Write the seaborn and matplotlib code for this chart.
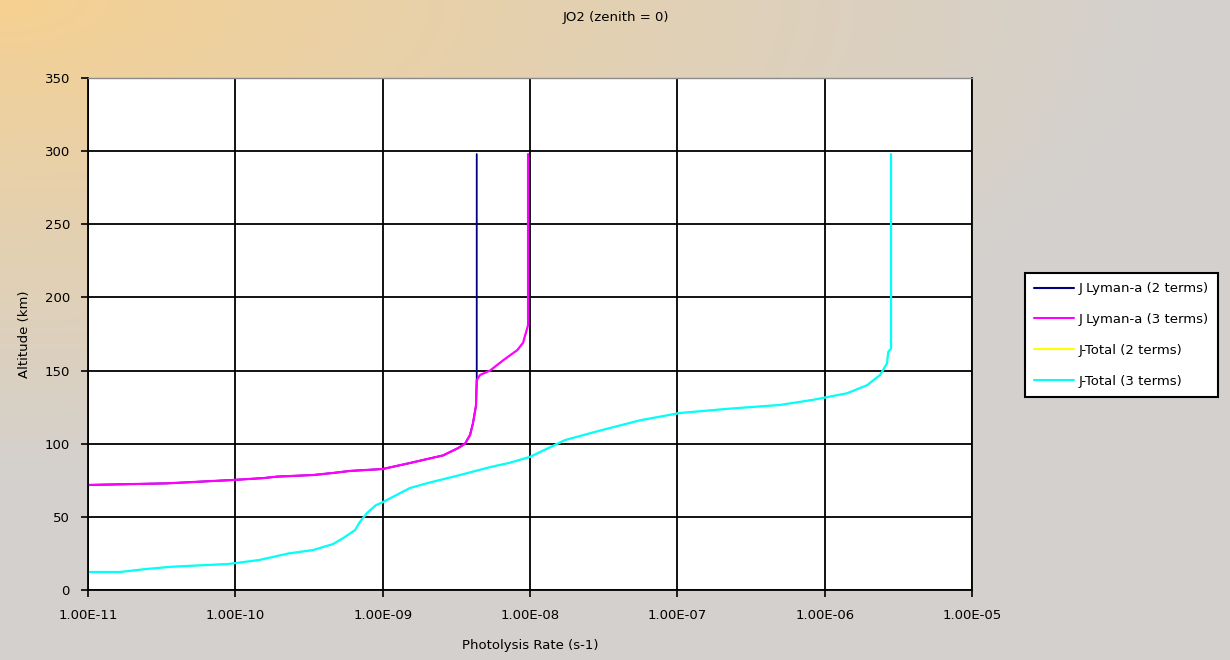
import numpy as np
import pandas as pd
import matplotlib
matplotlib.use("Agg")
import matplotlib.pyplot as plt
from matplotlib.ticker import FixedLocator, FuncFormatter
from matplotlib.lines import Line2D
import seaborn as sns

# Photolysis rate profiles of O2 (s-1) versus altitude (km)
lyman2_rate = [1.0e-11, 3.43e-11, 9.6e-11, 1.55e-10, 1.92e-10, 3.37e-10, 4.6e-10,
               6.0e-10, 1.0e-9, 1.53e-9, 2.0e-9, 2.57e-9, 3.25e-9, 3.62e-9,
               3.92e-9, 4.1e-9, 4.3e-9, 4.35e-9, 4.35e-9, 4.35e-9, 4.35e-9, 4.35e-9]
lyman2_alt = [71.8, 72.9, 75.2, 76.5, 77.5, 78.6, 80.0,
              81.4, 82.7, 86.8, 89.5, 92.0, 97.0, 100.0,
              106.0, 114.0, 126.0, 143.5, 150.0, 200.0, 250.0, 298.0]

lyman3_rate = [1.0e-11, 3.43e-11, 9.6e-11, 1.55e-10, 1.92e-10, 3.37e-10, 4.6e-10,
               6.0e-10, 1.0e-9, 1.53e-9, 2.0e-9, 2.57e-9, 3.25e-9, 3.62e-9,
               3.92e-9, 4.1e-9, 4.3e-9, 4.35e-9, 4.58e-9, 5.36e-9, 6.57e-9,
               8.2e-9, 8.97e-9, 9.7e-9, 9.7e-9]
lyman3_alt = [71.8, 72.9, 75.2, 76.5, 77.5, 78.6, 80.0,
              81.4, 82.7, 86.8, 89.5, 92.0, 97.0, 100.0,
              106.0, 114.0, 126.0, 143.5, 147.0, 150.0, 157.0,
              164.0, 169.0, 181.0, 298.0]

total_rate = [1.0e-11, 1.65e-11, 2.51e-11, 3.7e-11, 9.0e-11, 1.45e-10, 2.3e-10,
              3.37e-10, 4.6e-10, 5.4e-10, 6.5e-10, 7.0e-10, 7.83e-10, 9.0e-10,
              1.0e-9, 1.17e-9, 1.53e-9, 2.0e-9, 3.35e-9, 5.36e-9, 7.3e-9,
              1.0e-8, 1.73e-8, 2.99e-8, 5.58e-8, 1.04e-7, 2.28e-7, 4.98e-7,
              8.34e-7, 1.42e-6, 1.94e-6, 2.38e-6, 2.65e-6, 2.7e-6, 2.82e-6,
              2.82e-6]
total_alt = [12.3, 12.3, 14.4, 15.9, 17.8, 20.5, 25.0,
             27.3, 31.4, 35.5, 41.0, 46.5, 52.6, 58.0,
             60.0, 63.6, 69.7, 73.0, 78.6, 84.0, 87.0,
             91.0, 102.5, 109.0, 116.0, 121.0, 124.0, 126.5,
             130.0, 134.5, 140.0, 147.0, 155.0, 162.7, 165.0,
             298.0]

series_names = ["J Lyman-a (2 terms)", "J Lyman-a (3 terms)",
                "J-Total (2 terms)", "J-Total (3 terms)"]
series_colors = ["#000080", "#FF00FF", "#FFFF00", "#00FFFF"]
series_widths = [1.3, 1.6, 1.1, 1.6]

x_ticks = [1e-11, 1e-10, 1e-9, 1e-8, 1e-7, 1e-6, 1e-5]
y_ticks = [0, 50, 100, 150, 200, 250, 300, 350]

frames = []
for name, rate, alt in [(series_names[0], lyman2_rate, lyman2_alt),
                        (series_names[1], lyman3_rate, lyman3_alt),
                        (series_names[2], total_rate, total_alt),
                        (series_names[3], total_rate, total_alt)]:
    frames.append(pd.DataFrame({"rate": rate, "alt": alt, "series": name}))
df = pd.concat(frames, ignore_index=True)

sns.set_style("white")
plt.rcParams["font.family"] = ["DejaVu Sans"]
FS = 9.5

W, H = 1230, 660
fig = plt.figure(figsize=(W / 100, H / 100), dpi=100)

# Soft warm-to-grey background wash
bg = fig.add_axes([0, 0, 1, 1], zorder=-5)
yy, xx = np.mgrid[0:H, 0:W]
t = np.sqrt((xx / 1150.0) ** 2 + (yy / 470.0) ** 2)
t = np.clip(t, 0, 1) ** 0.9
warm = np.array([246, 208, 144]) / 255.0
grey = np.array([212, 208, 205]) / 255.0
img = warm[None, None, :] * (1 - t[..., None]) + grey[None, None, :] * t[..., None]
bg.imshow(img, aspect="auto", extent=[0, 1, 0, 1], origin="upper")
bg.set_axis_off()

ax = fig.add_axes([88 / W, 1 - 590 / H, (972 - 88) / W, (590 - 78) / H])
ax.set_facecolor("white")

for name, color, lw in zip(series_names, series_colors, series_widths):
    sub = df[df["series"] == name]
    sns.lineplot(data=sub, x="rate", y="alt", sort=False, estimator=None,
                 color=color, linewidth=lw, ax=ax, legend=False)

ax.set_xscale("log")
ax.set_xlim(1e-11, 1e-5)
ax.set_ylim(0, 350)
ax.xaxis.set_major_locator(FixedLocator(x_ticks))
ax.xaxis.set_minor_locator(FixedLocator([]))
ax.xaxis.set_major_formatter(FuncFormatter(lambda v, p: f"{v:.2E}"))
ax.yaxis.set_major_locator(FixedLocator(y_ticks))

ax.grid(True, color="black", linewidth=1.3)
ax.set_axisbelow(True)
for side in ["left", "bottom", "right"]:
    ax.spines[side].set_color("black")
    ax.spines[side].set_linewidth(1.3)
ax.spines["top"].set_color("#8a8a8a")
ax.spines["top"].set_linewidth(1.0)

ax.tick_params(axis="both", direction="out", length=5, width=1.2,
               color="black", labelsize=FS, labelcolor="black")
ax.tick_params(axis="x", pad=9, bottom=True)
ax.tick_params(axis="y", pad=8, left=True)

ax.set_xlabel("Photolysis Rate (s-1)", fontsize=FS, labelpad=12, color="black")
ax.set_ylabel("Altitude (km)", fontsize=FS, labelpad=10, color="black")

fig.text(616 / W, 1 - 18 / H, "JO2 (zenith = 0)", ha="center", va="center",
         fontsize=FS, color="black")

handles = [Line2D([0], [0], color=c, linewidth=1.5) for c in series_colors]
leg = fig.legend(handles, series_names, loc="upper left",
                 bbox_to_anchor=(1025 / W, 1 - 273 / H),
                 frameon=True, fancybox=False, framealpha=1.0, fontsize=FS,
                 handlelength=3.0, handletextpad=0.35, labelspacing=1.35,
                 borderpad=0.7, borderaxespad=0)
leg.get_frame().set_edgecolor("black")
leg.get_frame().set_linewidth(1.5)
leg.get_frame().set_facecolor("white")
for txt in leg.get_texts():
    txt.set_color("black")

fig.savefig("out.png", dpi=100)
